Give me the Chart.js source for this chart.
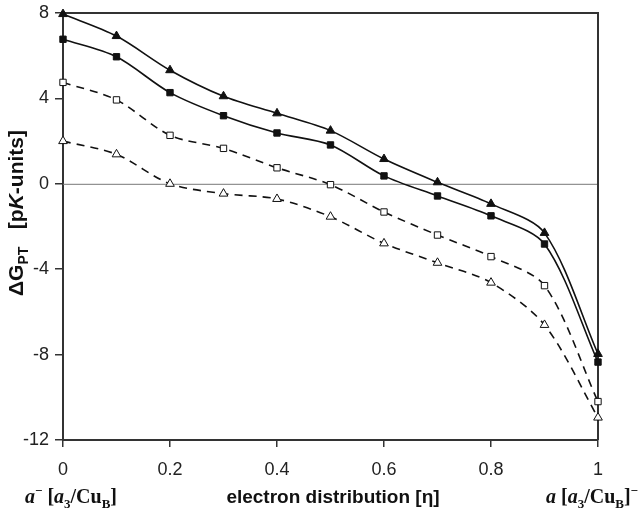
<!DOCTYPE html>
<html>
<head>
<meta charset="utf-8">
<script src="https://cdn.jsdelivr.net/npm/chart.js@4/dist/chart.umd.min.js"></script>
<style>
  body { margin: 0; background: #fff; }
  #wrap { width: 641px; height: 513px; }
</style>
</head>
<body>
<div id="wrap"><canvas id="c" width="641" height="513"></canvas></div>
<script>
// electron distribution (eta)
const eta = [0, 0.1, 0.2, 0.3, 0.4, 0.5, 0.6, 0.7, 0.8, 0.9, 1];
// dG_PT values, pK-units
const filledTri = [7.95, 6.92, 5.32, 4.1, 3.3, 2.49, 1.16, 0.07, -0.94, -2.3, -7.97];
const filledSq  = [6.77, 5.95, 4.27, 3.19, 2.38, 1.82, 0.37, -0.57, -1.5, -2.82, -8.35];
const openSq    = [4.75, 3.93, 2.27, 1.66, 0.75, -0.04, -1.32, -2.4, -3.41, -4.77, -10.2];
const openTri   = [2.0, 1.38, 0.0, -0.46, -0.71, -1.54, -2.79, -3.7, -4.63, -6.61, -10.95];
const yTicks = [8, 4, 0, -4, -8, -12];

function pts(ys) {
  return eta.map((x, i) => ({ x: x, y: ys[i] }));
}

function series(ys, style, fill, dashed, r) {
  return {
    data: pts(ys),
    borderColor: '#111',
    borderWidth: 1.6,
    borderDash: dashed ? [8, 6] : [],
    pointStyle: style,
    pointRadius: r,
    pointBackgroundColor: fill,
    pointBorderColor: '#111',
    pointBorderWidth: 1,
    tension: 0.3,
    clip: false,
    fill: false
  };
}

// draws text made of pieces with own font / vertical shift
function richText(ctx, parts, x, y, align) {
  let w = 0;
  parts.forEach(p => { ctx.font = p.f; w += ctx.measureText(p.t).width; });
  let cx = align === 'right' ? x - w : (align === 'center' ? x - w / 2 : x);
  parts.forEach(p => {
    ctx.font = p.f;
    ctx.fillText(p.t, cx, y + (p.dy || 0));
    cx += ctx.measureText(p.t).width;
  });
}

const extras = {
  id: 'extras',
  beforeDatasetsDraw(chart) {
    const ctx = chart.ctx, a = chart.chartArea;
    const y0 = chart.scales.y.getPixelForValue(0);
    ctx.save();
    ctx.strokeStyle = '#777';
    ctx.lineWidth = 1;
    ctx.beginPath();
    ctx.moveTo(a.left, y0 + 0.5);
    ctx.lineTo(a.right, y0 + 0.5);
    ctx.stroke();
    // top and right frame
    ctx.strokeStyle = '#333';
    ctx.lineWidth = 2;
    ctx.beginPath();
    ctx.moveTo(a.left, a.top);
    ctx.lineTo(a.right, a.top);
    ctx.lineTo(a.right, a.bottom);
    ctx.stroke();
    ctx.restore();
  },
  afterDraw(chart) {
    const ctx = chart.ctx;
    ctx.save();
    ctx.fillStyle = '#111';
    ctx.textBaseline = 'alphabetic';
    const ser = '"Liberation Serif", "Times New Roman", serif';
    const bi = 'bold italic 20px ' + ser, b = 'bold 20px ' + ser;
    const bs = 'bold 13px ' + ser;
    richText(ctx, [
      { t: 'a', f: bi }, { t: '\u2212', f: bs, dy: -8 }, { t: ' [', f: b },
      { t: 'a', f: bi }, { t: '3', f: bs, dy: 5 }, { t: '/Cu', f: b },
      { t: 'B', f: bs, dy: 5 }, { t: ']', f: b }
    ], 25, 503, 'left');
    richText(ctx, [
      { t: 'a', f: bi }, { t: ' [', f: b },
      { t: 'a', f: bi }, { t: '3', f: bs, dy: 5 }, { t: '/Cu', f: b },
      { t: 'B', f: bs, dy: 5 }, { t: ']', f: b }, { t: '\u2212', f: bs, dy: -8 }
    ], 638, 503, 'right');
    richText(ctx, [
      { t: 'electron distribution [\u03b7]', f: 'bold 19px "Liberation Sans", Arial, sans-serif' }
    ], 333, 503, 'center');

    // y axis title
    ctx.translate(23, 213);
    ctx.rotate(-Math.PI / 2);
    const sb = 'bold 21px "Liberation Sans", Arial, sans-serif';
    const ss = 'bold 14px "Liberation Sans", Arial, sans-serif';
    const sbi = 'bold italic 21px "Liberation Sans", Arial, sans-serif';
    richText(ctx, [
      { t: '\u0394G', f: sb }, { t: 'PT', f: ss, dy: 5 }, { t: '   [p', f: sb },
      { t: 'K', f: sbi }, { t: '-units]', f: sb }
    ], 0, 0, 'center');
    ctx.restore();
  }
};

new Chart(document.getElementById('c'), {
  type: 'line',
  data: {
    datasets: [
      series(filledTri, 'triangle', '#111', false, 5),
      series(filledSq, 'rect', '#111', false, 4.5),
      series(openSq, 'rect', '#fff', true, 4.5),
      series(openTri, 'triangle', '#fff', true, 5)
    ]
  },
  options: {
    responsive: false,
    animation: false,
    layout: { padding: { left: 0, right: 43, top: 13, bottom: 0 } },
    plugins: { legend: { display: false }, tooltip: { enabled: false } },
    scales: {
      x: {
        type: 'linear',
        min: 0, max: 1,
        afterFit(s) { s.height = 73; s.paddingLeft = 0; s.paddingRight = 0; },
        afterBuildTicks(s) { s.ticks = eta.filter((v, i) => i % 2 === 0).map(v => ({ value: v })); },
        grid: { drawOnChartArea: false, color: '#333', tickLength: 7, lineWidth: 1.5 },
        border: { color: '#333', width: 2 },
        ticks: {
          color: '#222', padding: 12,
          font: { family: '"Liberation Sans", Arial, sans-serif', size: 18 },
          callback: v => String(+v.toFixed(1))
        }
      },
      y: {
        min: -12, max: 8,
        afterFit(s) { s.width = 63; s.paddingTop = 0; s.paddingBottom = 0; },
        afterBuildTicks(s) { s.ticks = yTicks.map(v => ({ value: v })); },
        grid: { drawOnChartArea: false, color: '#333', tickLength: 8, lineWidth: 1.5 },
        border: { color: '#333', width: 2 },
        ticks: {
          color: '#222', padding: 6,
          font: { family: '"Liberation Sans", Arial, sans-serif', size: 18 }
        }
      }
    }
  },
  plugins: [extras]
});
</script>
</body>
</html>
